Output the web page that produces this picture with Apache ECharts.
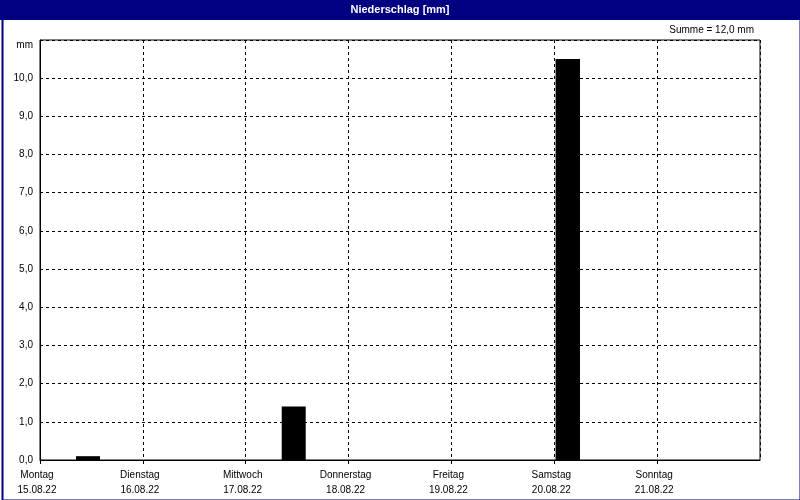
<!DOCTYPE html>
<html>
<head>
<meta charset="utf-8">
<script src="https://cdn.jsdelivr.net/npm/echarts@6/dist/echarts.min.js"></script>
<style>
html,body{margin:0;padding:0;background:#fff;}
#c{width:800px;height:500px;}
</style>
</head>
<body>
<div id="c"></div>
<script>
const days = ['Montag','Dienstag','Mittwoch','Donnerstag','Freitag','Samstag','Sonntag'];
const dates = ['15.08.22','16.08.22','17.08.22','18.08.22','19.08.22','20.08.22','21.08.22'];
// bars: start hour, end hour (since Monday 00:00), precipitation mm
const barStart = [8.4, 56.4, 120.3];
const barEnd = [14, 62, 126];
const barValues = [0.1, 1.4, 10.5];
const yTicks = [0,1,2,3,4,5,6,7,8,9,10];

const FONT = '"Liberation Sans", Arial, sans-serif';
const total = barValues.reduce((a,b)=>a+b,0);
const fmt = v => v.toFixed(1).replace('.', ',');

const chart = echarts.init(document.getElementById('c'));
chart.setOption({
  animation: false,
  backgroundColor: '#ffffff',
  textStyle: {fontFamily: FONT},
  grid: {left: 40, right: 40, top: 40, bottom: 40, show: true, borderColor: '#000', borderWidth: 1},
  xAxis: {
    type: 'value', min: 0, max: days.length * 24, interval: 24,
    axisLine: {lineStyle: {color: '#000', width: 1}},
    axisTick: {show: true, length: 4, lineStyle: {color: '#000'}},
    splitLine: {show: true, lineStyle: {color: '#000', type: [3,3], width: 1}},
    axisLabel: {
      color: '#000', fontSize: 10, fontFamily: FONT, lineHeight: 15, margin: 8,
      padding: [0, 6, 0, 0],
      showMaxLabel: false,
      formatter: v => { const i = Math.round(v/24); return i < days.length ? days[i] + '\n' + dates[i] : ''; }
    }
  },
  yAxis: {
    type: 'value', min: 0, max: 11, interval: 1,
    axisLine: {show: true, lineStyle: {color: '#000', width: 1}},
    axisTick: {show: false},
    splitLine: {show: true, lineStyle: {color: '#000', type: [3,3], width: 1}},
    axisLabel: {
      color: '#000', fontSize: 10, fontFamily: FONT, margin: 7,
      formatter: v => yTicks.indexOf(v) >= 0 ? fmt(v) : ''
    }
  },
  series: [{
    type: 'custom',
    data: barValues.map((v,i) => [barStart[i], barEnd[i], v]),
    renderItem: (params, api) => {
      const p1 = api.coord([api.value(0), api.value(2)]);
      const p2 = api.coord([api.value(1), 0]);
      return {type: 'rect', shape: {x: p1[0], y: p1[1], width: p2[0]-p1[0], height: p2[1]-p1[1]}, style: {fill: '#000'}};
    }
  }],
  graphic: [
    {type: 'rect', left: 0, top: 0, shape: {width: 800, height: 20}, style: {fill: '#000080'}, z: 10},
    {type: 'text', left: 'center', top: 4, style: {text: 'Niederschlag [mm]', fill: '#fff', font: 'bold 11px ' + FONT}, z: 11},
    {type: 'rect', left: 0, top: 0, shape: {x: 1, y: 1, width: 798, height: 498}, style: {fill: 'none', stroke: '#000080', lineWidth: 2}, z: 10},
    {type: 'text', right: 46, top: 25, style: {text: 'Summe = ' + fmt(total) + ' mm', fill: '#000', font: '10px ' + FONT}},
    {type: 'text', right: 767, top: 40, style: {text: 'mm', fill: '#000', font: '10px ' + FONT}}
  ]
});
</script>
</body>
</html>
